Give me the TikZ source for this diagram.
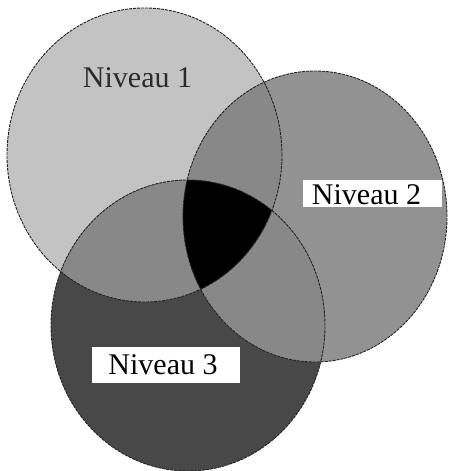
\documentclass[tikz,border=0pt]{standalone}
\usepackage{fontspec}
\setmainfont{Liberation Serif}
\definecolor{lvlone}{HTML}{C3C3C3}
\definecolor{lvltwo}{HTML}{929292}
\definecolor{lvlthree}{HTML}{484848}
\definecolor{lvlpair}{HTML}{888888}
\definecolor{rimcol}{HTML}{222222}
\definecolor{labcol}{HTML}{2A2A2A}
\tikzset{
  rim/.style={draw=rimcol, line width=0.9pt, dash pattern=on 3pt off 1pt},
  lab/.style={anchor=base, inner sep=0pt, font=\fontsize{30}{36}\selectfont},
  whitebox/.style={fill=white, draw=none, inner sep=0pt, minimum width=#1}
}
\newcommand{\cone}{(144.5,316) ellipse [x radius=137.5pt, y radius=147pt]}
\newcommand{\ctwo}{(315,254.5) ellipse [x radius=132pt, y radius=145.5pt]}
\newcommand{\cthree}{(188,145.5) ellipse [x radius=137pt, y radius=145.5pt]}
\begin{document}
\begin{tikzpicture}[x=1pt,y=1pt]
\useasboundingbox (0,0) rectangle (450,471);
\fill[white] (0,0) rectangle (450,471);
% single regions
\fill[lvlone] \cone;
\fill[lvltwo] \ctwo;
\fill[lvlthree] \cthree;
% pairwise overlaps
\begin{scope}\clip \cone; \fill[lvlpair] \ctwo; \end{scope}
\begin{scope}\clip \cone; \fill[lvlpair] \cthree; \end{scope}
\begin{scope}\clip \ctwo; \fill[lvlpair] \cthree; \end{scope}
% triple overlap
\begin{scope}\clip \cone; \clip \ctwo; \fill[black] \cthree; \end{scope}
% outlines
\draw[rim] \cone;
\draw[rim] \ctwo;
\draw[rim] \cthree;
% labels
\node[lab, text=labcol] (n1) at (137.5,383) {Niveau 1};
\node[whitebox=139pt, minimum height=27pt] (box2) at (372.5,277.5) {};
\node[lab] (n2) at (366.5,266) {Niveau 2};
\node[whitebox=148pt, minimum height=36pt] (box3) at (166,106) {};
\node[lab] (n3) at (163,96) {Niveau 3};
\end{tikzpicture}
\end{document}
